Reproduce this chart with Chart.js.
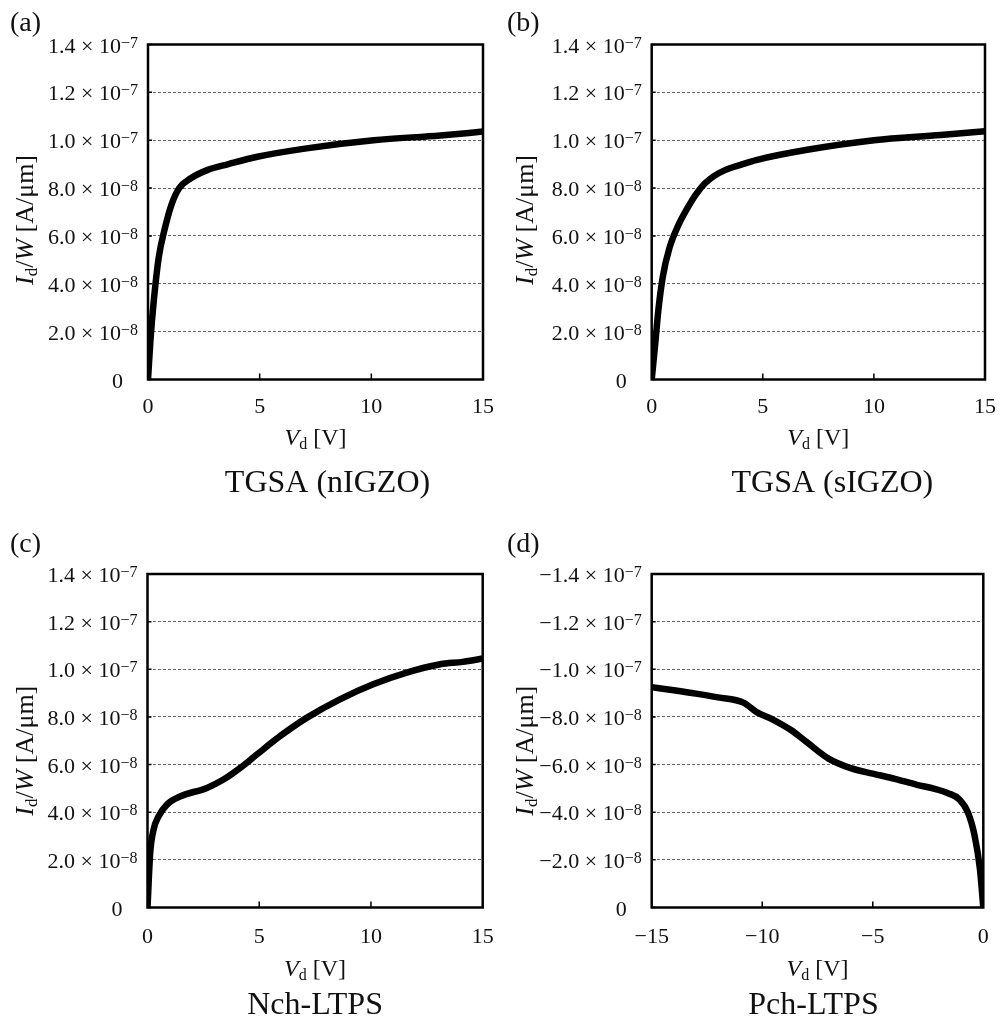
<!DOCTYPE html>
<html>
<head>
<meta charset="utf-8">
<script src="https://cdn.jsdelivr.net/npm/chart.js@4.4.1/dist/chart.umd.min.js"></script>
<style>
  html, body { margin: 0; padding: 0; background: #fff; }
  #wrap { position: relative; width: 1000px; height: 1022px; }
  #wrap canvas { position: absolute; }
</style>
</head>
<body>
<div id="wrap">
  <canvas id="pa" width="500" height="511" style="left:0;top:0"></canvas>
  <canvas id="pb" width="500" height="511" style="left:500px;top:0"></canvas>
  <canvas id="pc" width="500" height="511" style="left:0;top:511px"></canvas>
  <canvas id="pd" width="500" height="511" style="left:500px;top:511px"></canvas>
</div>
<script>
// ---- Output characteristics, Id/W [A/um] versus Vd [V] ----

// (a) TGSA (nIGZO)
const vdA = [0, 0.11, 0.26, 0.48, 0.75, 1.05, 1.4, 1.9, 2.65, 3.6, 4.9, 7.1, 10.1, 13.1, 15];
const idA = [0, 1.65e-8, 3.3e-8, 5.1e-8, 6.3e-8, 7.3e-8, 8.0e-8, 8.4e-8, 8.75e-8, 9.0e-8, 9.31e-8, 9.66e-8, 10.0e-8, 10.2e-8, 10.36e-8];

// (b) TGSA (sIGZO)
const vdB = [0, 0.15, 0.3, 0.5, 0.8, 1.2, 1.6, 2.0, 2.4, 2.8, 3.3, 4.0, 4.7, 7.0, 10.0, 13.0, 15];
const idB = [0, 1.4e-8, 2.9e-8, 4.3e-8, 5.5e-8, 6.45e-8, 7.15e-8, 7.75e-8, 8.2e-8, 8.5e-8, 8.75e-8, 8.97e-8, 9.17e-8, 9.6e-8, 10.0e-8, 10.22e-8, 10.38e-8];

// (c) Nch-LTPS
const vdC = [0, 0.12, 0.27, 0.49, 0.87, 1.46, 2.66, 3.4, 4.15, 4.89, 5.93, 7.12, 8.61, 10.1, 11.6, 13.1, 14.1, 15];
const idC = [0, 2.28e-8, 3.26e-8, 3.82e-8, 4.32e-8, 4.66e-8, 5.02e-8, 5.37e-8, 5.86e-8, 6.42e-8, 7.19e-8, 7.96e-8, 8.74e-8, 9.37e-8, 9.86e-8, 10.21e-8, 10.31e-8, 10.45e-8];

// (d) Pch-LTPS
const vdD = [-15, -14, -13, -12, -10.85, -10.25, -9.5, -8.7, -8.0, -7.0, -6.0, -5.0, -4.0, -3.0, -2.2, -1.6, -1.1, -0.7, -0.4, -0.15, 0];
const idD = [-9.25e-8, -9.12e-8, -8.98e-8, -8.82e-8, -8.6e-8, -8.2e-8, -7.88e-8, -7.45e-8, -6.95e-8, -6.25e-8, -5.85e-8, -5.62e-8, -5.4e-8, -5.15e-8, -4.98e-8, -4.8e-8, -4.55e-8, -4.0e-8, -3.05e-8, -1.6e-8, 0];

// tick values and labels
const xTicksN = [0, 5, 10, 15];
const xLabelsN = ['0', '5', '10', '15'];
const xTicksP = [-15, -10, -5, 0];
const xLabelsP = ['\u221215', '\u221210', '\u22125', '0'];

const yTicksN = [0, 2e-8, 4e-8, 6e-8, 8e-8, 1.0e-7, 1.2e-7, 1.4e-7];
const yMantN  = ['0', '2.0', '4.0', '6.0', '8.0', '1.0', '1.2', '1.4'];
const yTicksP = [0, -2e-8, -4e-8, -6e-8, -8e-8, -1.0e-7, -1.2e-7, -1.4e-7];
const yMantP  = ['0', '\u22122.0', '\u22124.0', '\u22126.0', '\u22128.0', '\u22121.0', '\u22121.2', '\u22121.4'];
const yExp    = ['', '\u22128', '\u22128', '\u22128', '\u22128', '\u22127', '\u22127', '\u22127'];

const panelNames = ['TGSA (nIGZO)', 'TGSA (sIGZO)', 'Nch-LTPS', 'Pch-LTPS'];
const panelLetters = ['(a)', '(b)', '(c)', '(d)'];

const FAMILY = '"Liberation Serif", "Times New Roman", Times, serif';
const INK = '#111';
const W = 500, H = 511;

const panels = [
  { canvas: 'pa', vd: vdA, id: idA, xT: xTicksN, xL: xLabelsN, yT: yTicksN, yM: yMantN, min: 0, max: 15, yMin: 0, yMax: 1.4e-7, rev: false,
    area: { left: 148, right: 483, top: 44.5, bottom: 379.5 }, letter: [10, 22], vdY: 437, nameY: 481, nameDx: 12, titleDy: 8, tickPad: 15 },
  { canvas: 'pb', vd: vdB, id: idB, xT: xTicksN, xL: xLabelsN, yT: yTicksN, yM: yMantN, min: 0, max: 15, yMin: 0, yMax: 1.4e-7, rev: false,
    area: { left: 151.7, right: 485, top: 44.5, bottom: 379.5 }, letter: [7, 22], vdY: 437, nameY: 481, nameDx: 14, titleDy: 8, tickPad: 15 },
  { canvas: 'pc', vd: vdC, id: idC, xT: xTicksN, xL: xLabelsN, yT: yTicksN, yM: yMantN, min: 0, max: 15, yMin: 0, yMax: 1.4e-7, rev: false,
    area: { left: 147.5, right: 482.7, top: 63, bottom: 396.5 }, letter: [10, 32], vdY: 457, nameY: 492, nameDx: 0, titleDy: 10, tickPad: 17 },
  { canvas: 'pd', vd: vdD, id: idD, xT: xTicksP, xL: xLabelsP, yT: yTicksP, yM: yMantP, min: -15, max: 0, yMin: -1.4e-7, yMax: 0, rev: true,
    area: { left: 151.7, right: 483.3, top: 63, bottom: 396.5 }, letter: [7, 32], vdY: 457, nameY: 492, nameDx: -4, titleDy: 10, tickPad: 17 }
];

// draw a sequence of text runs (mixed size / italic / baseline shift)
function drawRuns(ctx, runs, x, y, align) {
  let total = 0;
  for (const r of runs) {
    ctx.font = (r.italic ? 'italic ' : '') + r.size + 'px ' + FAMILY;
    r.w = ctx.measureText(r.t).width;
    total += r.w;
  }
  let cx = align === 'center' ? x - total / 2 : align === 'right' ? x - total : x;
  ctx.textAlign = 'left';
  ctx.textBaseline = 'alphabetic';
  for (const r of runs) {
    ctx.font = (r.italic ? 'italic ' : '') + r.size + 'px ' + FAMILY;
    ctx.fillText(r.t, cx, y + (r.dy || 0));
    cx += r.w;
  }
}

panels.forEach((p, k) => {
  const a = p.area;
  const decor = {
    id: 'decor',
    afterDraw(chart) {
      const ctx = chart.ctx;
      const ca = chart.chartArea;
      const xs = chart.scales.x, ys = chart.scales.y;
      ctx.save();
      // frame
      ctx.strokeStyle = '#000';
      ctx.lineWidth = 2.5;
      ctx.strokeRect(ca.left, ca.top, ca.right - ca.left, ca.bottom - ca.top);
      // inner tick marks
      ctx.lineWidth = 1.5;
      ctx.beginPath();
      p.xT.forEach(v => {
        const px = xs.getPixelForValue(v);
        if (px > ca.left + 3 && px < ca.right - 3) {
          ctx.moveTo(px, ca.bottom);
          ctx.lineTo(px, ca.bottom - 6);
        }
      });
      p.yT.forEach(v => {
        const py = ys.getPixelForValue(v);
        ctx.moveTo(ca.left, py);
        ctx.lineTo(ca.left + 4, py);
      });
      ctx.stroke();

      ctx.fillStyle = INK;
      // y tick labels: mantissa x 10^exponent
      p.yT.forEach((v, i) => {
        const py = ys.getPixelForValue(v);
        if (yExp[i]) {
          drawRuns(ctx, [
            { t: p.yM[i] + ' \u00d7 10', size: 22 },
            { t: yExp[i], size: 16, dy: -5 }
          ], ca.left - 10, py + 8, 'right');
        } else {
          drawRuns(ctx, [{ t: p.yM[i], size: 22 }], ca.left - 25, py + 8, 'right');
        }
      });

      const cx = (ca.left + ca.right) / 2;
      // x axis title: Vd [V]
      drawRuns(ctx, [
        { t: 'V', size: 24, italic: true },
        { t: 'd', size: 16, dy: 4 },
        { t: ' [V]', size: 24 }
      ], cx, p.vdY + 8, 'center');

      // panel caption
      drawRuns(ctx, [{ t: panelNames[k], size: 32 }], cx + p.nameDx, p.nameY + 11, 'center');

      // panel letter
      drawRuns(ctx, [{ t: panelLetters[k], size: 28 }], p.letter[0], p.letter[1] + 9, 'left');

      // y axis title: Id/W [A/um], rotated
      ctx.translate(24, (ca.top + ca.bottom) / 2 + p.titleDy);
      ctx.rotate(-Math.PI / 2);
      drawRuns(ctx, [
        { t: 'I', size: 26, italic: true },
        { t: 'd', size: 17, dy: 4 },
        { t: '/', size: 26 },
        { t: 'W', size: 26, italic: true },
        { t: ' [A/\u03bcm]', size: 26 }
      ], 0, 9, 'center');
      ctx.restore();
    }
  };

  new Chart(document.getElementById(p.canvas), {
    type: 'line',
    data: {
      datasets: [{
        data: p.vd.map((v, i) => ({ x: v, y: p.id[i] })),
        borderColor: '#000',
        borderWidth: 6.5,
        pointRadius: 0,
        fill: false,
        cubicInterpolationMode: 'monotone',
        borderCapStyle: 'round',
        borderJoinStyle: 'round'
      }]
    },
    options: {
      responsive: false,
      animation: false,
      devicePixelRatio: 1,
      layout: { padding: { left: 0, top: a.top, right: W - a.right, bottom: 0 } },
      plugins: { legend: { display: false }, tooltip: { enabled: false } },
      scales: {
        x: {
          type: 'linear',
          min: p.min, max: p.max,
          afterBuildTicks: s => { s.ticks = p.xT.map(v => ({ value: v })); },
          afterFit: s => { s.height = H - a.bottom; s.paddingLeft = 0; s.paddingRight = 0; },
          ticks: {
            callback: (v, i) => p.xL[i],
            color: INK,
            font: { family: FAMILY, size: 22 },
            padding: p.tickPad,
            maxRotation: 0
          },
          grid: { display: false, drawTicks: false },
          border: { display: false }
        },
        y: {
          type: 'linear',
          min: p.yMin, max: p.yMax,
          reverse: p.rev,
          afterBuildTicks: s => { s.ticks = p.yT.map(v => ({ value: v })); },
          afterFit: s => { s.width = a.left; s.paddingTop = 0; s.paddingBottom = 0; },
          ticks: { display: false },
          grid: { color: 'rgba(0,0,0,0.6)', lineWidth: 1, drawTicks: false },
          border: { display: false, dash: [3, 2] }
        }
      }
    },
    plugins: [decor]
  });
});
</script>
</body>
</html>
